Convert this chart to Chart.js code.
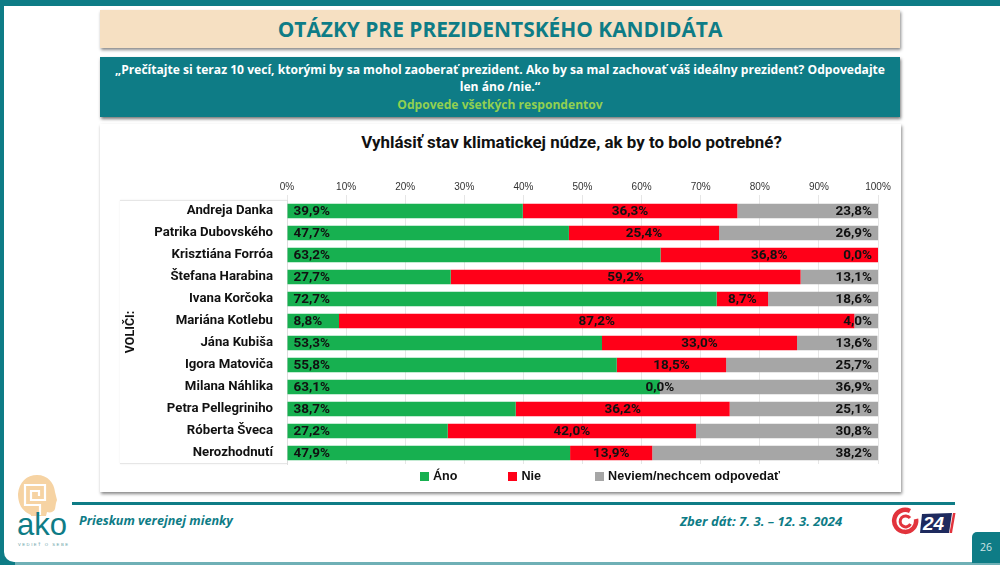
<!DOCTYPE html>
<html lang="sk">
<head>
<meta charset="utf-8">
<title>Otázky pre prezidentského kandidáta</title>
<script src="https://cdn.jsdelivr.net/npm/chart.js@4"></script>
<style>
    html, body { margin: 0; padding: 0; background: #fff; }
    body { position: relative; width: 1000px; height: 565px; overflow: hidden; font-family: "Open Sans", sans-serif; }
    .abs { position: absolute; }
    #topBar { left: 0; top: 0; width: 1000px; height: 6px; background: #0e7c86; }
    #leftBar { left: 0; top: 0; width: 4px; height: 565px; background: #0e7c86; }
    #bottomBar { left: 0; top: 562px; width: 1000px; height: 3px; background: #6fb0b6; }
    #corner { left: 4px; top: 550px; width: 12px; height: 12px; background: #fff; border-bottom-left-radius: 10px; box-shadow: -3px 3px 0 2px #0e7c86; }
    #titleBox { left: 100px; top: 10px; width: 800px; height: 38px; background: #f6e0c2; box-shadow: 1px 2px 3px #888; color: #0e7c86; font-weight: 700; font-size: 20.9px; line-height: 38px; text-align: center; }
    #questionBox { left: 100px; top: 57px; width: 800px; height: 60px; background: #0e7c86; box-shadow: 1px 2px 3px #777; color: #fff; font-weight: 700; font-size: 12.1px; line-height: 17.5px; text-align: center; padding-top: 3.5px; box-sizing: border-box; }
    #questionBox span { color: #92d050; }
    #panel { left: 100px; top: 124px; width: 801px; height: 368px; background: #fff; box-shadow: 1px 2px 3px #888; }
    #catBox { left: 120px; top: 200px; width: 167px; height: 264px; box-sizing: border-box; border-top: 1px solid #e6e6e6; border-bottom: 1px solid #e6e6e6; box-shadow: 0 0 2px #eee; }
    #chartTitle { left: 100px; top: 130px; width: 943px; text-align: center; font: 700 16.9px Roboto, sans-serif; color: #111; line-height: 24px; }
    #chartWrap { left: 100px; top: 124px; width: 800px; height: 368px; }
    #legendBox { left: 420px; top: 468px; display: flex; font: 700 12.6px "Liberation Sans", sans-serif; color: #111; line-height: 16px; }
    #legendBox div { display: flex; align-items: center; margin-right: 51px; white-space: nowrap; }
    #legendBox div:nth-child(2) { margin-right: 54px; }
    #legendBox i { display: inline-block; width: 9px; height: 9px; margin-right: 4px; }
    #footLine { left: 72px; top: 502px; width: 883px; height: 3px; background: #0e7c86; }
    .foot { top: 513px; color: #0e7c86; font-weight: 700; font-style: italic; line-height: 16px; white-space: nowrap; }
    #pageNo { left: 972px; top: 532px; width: 28px; height: 31px; background: #0e7c86; border-top-left-radius: 5px; color: #cfe5e6; font-size: 10.5px; line-height: 31px; text-align: center; }
</style>
</head>
<body>
<div class="abs" id="topBar"></div>
<div class="abs" id="bottomBar"></div>
<div class="abs" id="leftBar"></div>
<div class="abs" id="corner"></div>
<div class="abs" id="titleBox">OTÁZKY PRE PREZIDENTSKÉHO KANDIDÁTA</div>
<div class="abs" id="questionBox">„Prečítajte si teraz 10 vecí, ktorými by sa mohol zaoberať prezident. Ako by sa mal zachovať váš ideálny prezident? Odpovedajte<br>len áno /nie.“<br><span>Odpovede všetkých respondentov</span></div>
<div class="abs" id="panel"></div>
<div class="abs" id="catBox"></div>
<div class="abs" id="chartTitle">Vyhlásiť stav klimatickej núdze, ak by to bolo potrebné?</div>
<div class="abs" id="chartWrap"><canvas id="stackChart"></canvas></div>
<div class="abs" id="legendBox"></div>
<div class="abs" id="footLine"></div>
<div class="abs foot" style="left:79px;font-size:12.6px">Prieskum verejnej mienky</div>
<div class="abs foot" style="left:680px;font-size:13.1px">Zber dát: 7. 3. – 12. 3. 2024</div>
<div class="abs" id="pageNo">26</div>

<!-- logo AKO -->
<svg class="abs" style="left:14px;top:474px" width="62" height="76" viewBox="0 0 62 76">
    <path d="M17 41 C7 37 4 28 4 20 C5 8 13 1 23 1 C34 1 40 9 41 18 L42 22 L43 26 L42 29 L41 35 C40 38 36 39 33 38 L32 42 L17 42 Z" fill="#f6d3a3"/>
    <path d="M26 41 L26 31 L11 31 L11 11 L31 11 L31 26 L17 26 L17 17 L25 17 L25 22" fill="none" stroke="#fff" stroke-width="2.2"/>
    <text x="3" y="61" font-family="Liberation Sans, sans-serif" font-size="32" textLength="50" lengthAdjust="spacingAndGlyphs" fill="#0e7c86">ako</text>
    <text x="4" y="72" font-family="Liberation Sans, sans-serif" font-size="4.2" textLength="50" fill="#5f9ea5">VEDIEŤ O SEBE</text>
</svg>
<!-- logo O24 -->
<svg class="abs" style="left:890px;top:507px" width="68" height="30" viewBox="0 0 68 30">
    <path d="M20 4 A11 11 0 1 0 26 12" fill="none" stroke="#e2333c" stroke-width="4.5"/>
    <path d="M20 11 A5.5 5.5 0 1 0 20.5 17" fill="none" stroke="#e2333c" stroke-width="3"/>
    <path d="M32 7 L62 6 L59 26 L30 26 Z" fill="#1e2a5e"/>
    <path d="M63 6 L65.5 6 L62 26 L59.5 26 Z" fill="#e2333c"/>
    <text x="33" y="23" font-family="Liberation Sans, sans-serif" font-size="19" font-weight="700" font-style="italic" fill="#fff">24</text>
</svg>

<script>
// 質問ごとの回答データ
const categories = [
    'Andreja Danka', 'Patrika Dubovského', 'Krisztiána Forróa', 'Štefana Harabina',
    'Ivana Korčoka', 'Mariána Kotlebu', 'Jána Kubiša', 'Igora Matoviča',
    'Milana Náhlika', 'Petra Pellegriniho', 'Róberta Šveca', 'Nerozhodnutí'
]
const ano = [39.9, 47.7, 63.2, 27.7, 72.7, 8.8, 53.3, 55.8, 63.1, 38.7, 27.2, 47.9]
const nie = [36.3, 25.4, 36.8, 59.2, 8.7, 87.2, 33.0, 18.5, 0.0, 36.2, 42.0, 13.9]
const neviem = [23.8, 26.9, 0.0, 13.1, 18.6, 4.0, 13.6, 25.7, 36.9, 25.1, 30.8, 38.2]
const seriesNames = ['Áno', 'Nie', 'Neviem/nechcem odpovedať']
const seriesColors = ['#17b050', '#ff0018', '#a6a6a6']

// 棒の中に値を描くプラグイン
const barLabels = {
    id: 'barLabels',
    afterDatasetsDraw(chart) {
        const ctx = chart.ctx
        ctx.save()
        ctx.font = '700 13.5px Roboto, sans-serif'
        ctx.fillStyle = '#111'
        ctx.textBaseline = 'middle'
        chart.data.datasets.forEach((ds, i) => {
            chart.getDatasetMeta(i).data.forEach((bar, j) => {
                const text = ds.data[j].toFixed(1).replace('.', ',') + '%'
                const left = Math.min(bar.base, bar.x)
                const right = Math.max(bar.base, bar.x)
                if (i === 0) {
                    ctx.textAlign = 'left'
                    ctx.fillText(text, left + 6, bar.y + 1)
                } else if (i === 1) {
                    ctx.textAlign = 'center'
                    ctx.fillText(text, (left + right) / 2, bar.y + 1)
                } else {
                    ctx.textAlign = 'right'
                    ctx.fillText(text, chart.chartArea.right - 6, bar.y + 1)
                }
            })
        })
        ctx.restore()
    }
}

new Chart(document.getElementById('stackChart'), {
    type: 'bar',
    data: {
        labels: categories,
        datasets: [
            { label: seriesNames[0], data: ano, backgroundColor: seriesColors[0] },
            { label: seriesNames[1], data: nie, backgroundColor: seriesColors[1] },
            { label: seriesNames[2], data: neviem, backgroundColor: seriesColors[2] }
        ]
    },
    options: {
        indexAxis: 'y',
        responsive: true,
        maintainAspectRatio: false,
        animation: false,
        categoryPercentage: 0.66,
        barPercentage: 1,
        layout: { padding: { left: 23, right: 22, top: 0, bottom: 28 } },
        plugins: {
            legend: { display: false },
            tooltip: { enabled: false }
        },
        scales: {
            x: {
                position: 'top',
                stacked: true,
                min: 0,
                max: 100,
                grid: { color: '#e6e6e6', tickLength: 5 },
                border: { display: false },
                afterFit(scale) { scale.height = 76 },
                ticks: {
                    stepSize: 10,
                    padding: 2,
                    maxRotation: 0,
                    color: '#333',
                    font: { family: '"Liberation Sans", sans-serif', size: 10 },
                    callback: value => value + '%'
                }
            },
            y: {
                stacked: true,
                grid: { display: false },
                border: { color: '#dddddd' },
                afterFit(scale) { scale.width = 164 },
                title: {
                    display: true,
                    text: 'VOLIČI:',
                    color: '#111',
                    padding: { top: 0, bottom: 0 },
                    font: { family: 'Roboto, sans-serif', size: 12.5, weight: '700' }
                },
                ticks: {
                    padding: 6,
                    color: '#111',
                    font: { family: 'Roboto, sans-serif', size: 13.2, weight: '700' }
                }
            }
        }
    },
    plugins: [barLabels]
})

// HTML の凡例
const legendBox = document.getElementById('legendBox')
seriesNames.forEach((name, i) => {
    const item = document.createElement('div')
    item.innerHTML = '<i style="background:' + seriesColors[i] + '"></i>' + name
    legendBox.appendChild(item)
})
</script>
</body>
</html>
